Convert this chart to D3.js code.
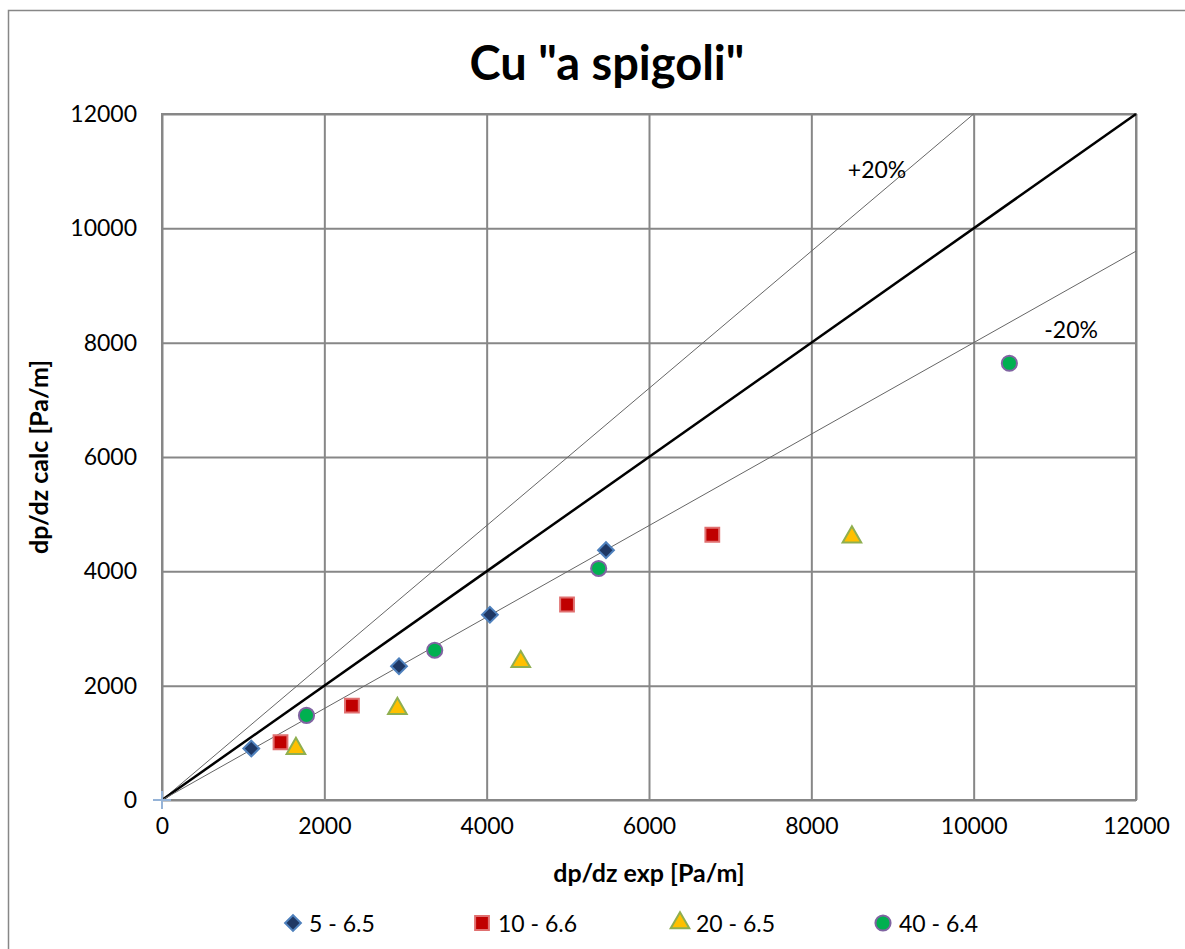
<!DOCTYPE html>
<html><head><meta charset="utf-8">
<script src="https://cdn.jsdelivr.net/npm/d3@7"></script>
<style>body{margin:0;background:#fff;overflow:hidden;} text{font-family:Lato,"Open Sans",sans-serif;}</style>
</head><body><svg id="c" width="1185" height="949"></svg>
<script>
const seriesNames = ["5 - 6.5", "10 - 6.6", "20 - 6.5", "40 - 6.4"];
const s1x = [1100, 2920, 4040, 5470];
const s1y = [900, 2340, 3240, 4370];
const s2x = [1460, 2340, 4990, 6780];
const s2y = [1010, 1650, 3420, 4640];
const s3x = [1650, 2900, 4420, 8500];
const s3y = [900, 1600, 2420, 4600];
const s4x = [1780, 3360, 5380, 10440];
const s4y = [1480, 2620, 4050, 7640];
const xTicks = [0, 2000, 4000, 6000, 8000, 10000, 12000];
const yTicks = [0, 2000, 4000, 6000, 8000, 10000, 12000];
const refSlopes = [1.2, 1.0, 0.8];
const refLabels = ["+20%", "-20%"];

const svg = d3.select("#c");
const L = 162, R = 1136, T = 114, B = 800;
const x = d3.scaleLinear().domain([0, 12000]).range([L, R]);
const y = d3.scaleLinear().domain([0, 12000]).range([B, T]);
const grid = "#878787";

// outer frame
svg.append("rect").attr("x", 8.5).attr("y", 10.5).attr("width", 1300).attr("height", 1000)
  .attr("fill", "none").attr("stroke", grid).attr("stroke-width", 1.5);

// grid
const gx = svg.append("g").attr("transform", `translate(0,${B})`)
  .call(d3.axisBottom(x).tickValues(xTicks).tickSize(-(B - T)).tickFormat(d => d).tickPadding(12));
const gy = svg.append("g").attr("transform", `translate(${L},0)`)
  .call(d3.axisLeft(y).tickValues(yTicks).tickSize(-(R - L)).tickFormat(d => d).tickPadding(25));
[gx, gy].forEach(g => {
  g.select(".domain").remove();
  g.selectAll("line").attr("stroke", grid).attr("stroke-width", 2);
  g.selectAll("text").attr("font-size", 23).attr("fill", "#000").style("font-family", "Lato");
});
gx.selectAll("text").attr("dy", "0.95em");
svg.append("rect").attr("x", L).attr("y", T).attr("width", R - L).attr("height", B - T)
  .attr("fill", "none").attr("stroke", grid).attr("stroke-width", 2);

// reference lines
refSlopes.forEach(s => {
  const xe = Math.min(12000, 12000 / s);
  svg.append("line").attr("x1", x(0)).attr("y1", y(0)).attr("x2", x(xe)).attr("y2", y(xe * s))
    .attr("stroke", s === 1 ? "#000" : "#666").attr("stroke-width", s === 1 ? 2.5 : 1);
});
svg.append("text").attr("x", x(8450)).attr("y", y(10880)).attr("font-size", 23).text(refLabels[0]);
svg.append("text").attr("x", x(10870)).attr("y", y(8080)).attr("font-size", 23).text(refLabels[1]);

// markers
const styles = [
  {sym: d3.symbolSquare, size: 125, rot: 45, fill: "#1F3864", stroke: "#4F81BD"},
  {sym: d3.symbolSquare, size: 190, rot: 0, fill: "#C00000", stroke: "#E07070"},
  {sym: d3.symbolTriangle, size: 150, rot: 0, fill: "#FFC000", stroke: "#8FAF50"},
  {sym: d3.symbolCircle, size: 180, rot: 0, fill: "#00B050", stroke: "#8064A2"}
];
const xs = [s1x, s2x, s3x, s4x], ys = [s1y, s2y, s3y, s4y];
// origin cross marker
svg.append("g").selectAll("line").data([[-9,0,9,0],[0,-9,0,9]]).join("line")
  .attr("x1", d => x(0) + d[0]).attr("y1", d => y(0) + d[1]).attr("x2", d => x(0) + d[2]).attr("y2", d => y(0) + d[3])
  .attr("stroke", "#95B3D7").attr("stroke-width", 2);

xs.forEach((xa, i) => {
  const st = styles[i];
  const pts = xa.map((v, j) => [v, ys[i][j]]);
  svg.append("g").selectAll("path").data(pts).join("path")
    .attr("d", d3.symbol(st.sym, st.size)())
    .attr("transform", d => `translate(${x(d[0])},${y(d[1])}) rotate(${st.rot})`)
    .attr("fill", st.fill).attr("stroke", st.stroke).attr("stroke-width", 2);
});

// title & axis titles
svg.append("text").attr("x", 607).attr("y", 80).attr("text-anchor", "middle")
  .attr("font-size", 47).attr("font-weight", "bold").text('Cu "a spigoli"');
svg.append("text").attr("x", 649).attr("y", 882).attr("text-anchor", "middle")
  .attr("font-size", 25).attr("font-weight", "bold").text("dp/dz exp [Pa/m]");
svg.append("text").attr("transform", "translate(48,457) rotate(-90)").attr("text-anchor", "middle")
  .attr("font-size", 25).attr("font-weight", "bold").text("dp/dz calc [Pa/m]");

// legend
const legX = [293, 482, 680, 883];
const leg = svg.append("g");
seriesNames.forEach((n, i) => {
  const st = styles[i];
  leg.append("path").attr("d", d3.symbol(st.sym, st.size)())
    .attr("transform", `translate(${legX[i]},${923}) rotate(${st.rot})`)
    .attr("fill", st.fill).attr("stroke", st.stroke).attr("stroke-width", 2);
  leg.append("text").attr("x", legX[i] + 16).attr("y", 932).attr("font-size", 23).text(n);
});
</script></body></html>
